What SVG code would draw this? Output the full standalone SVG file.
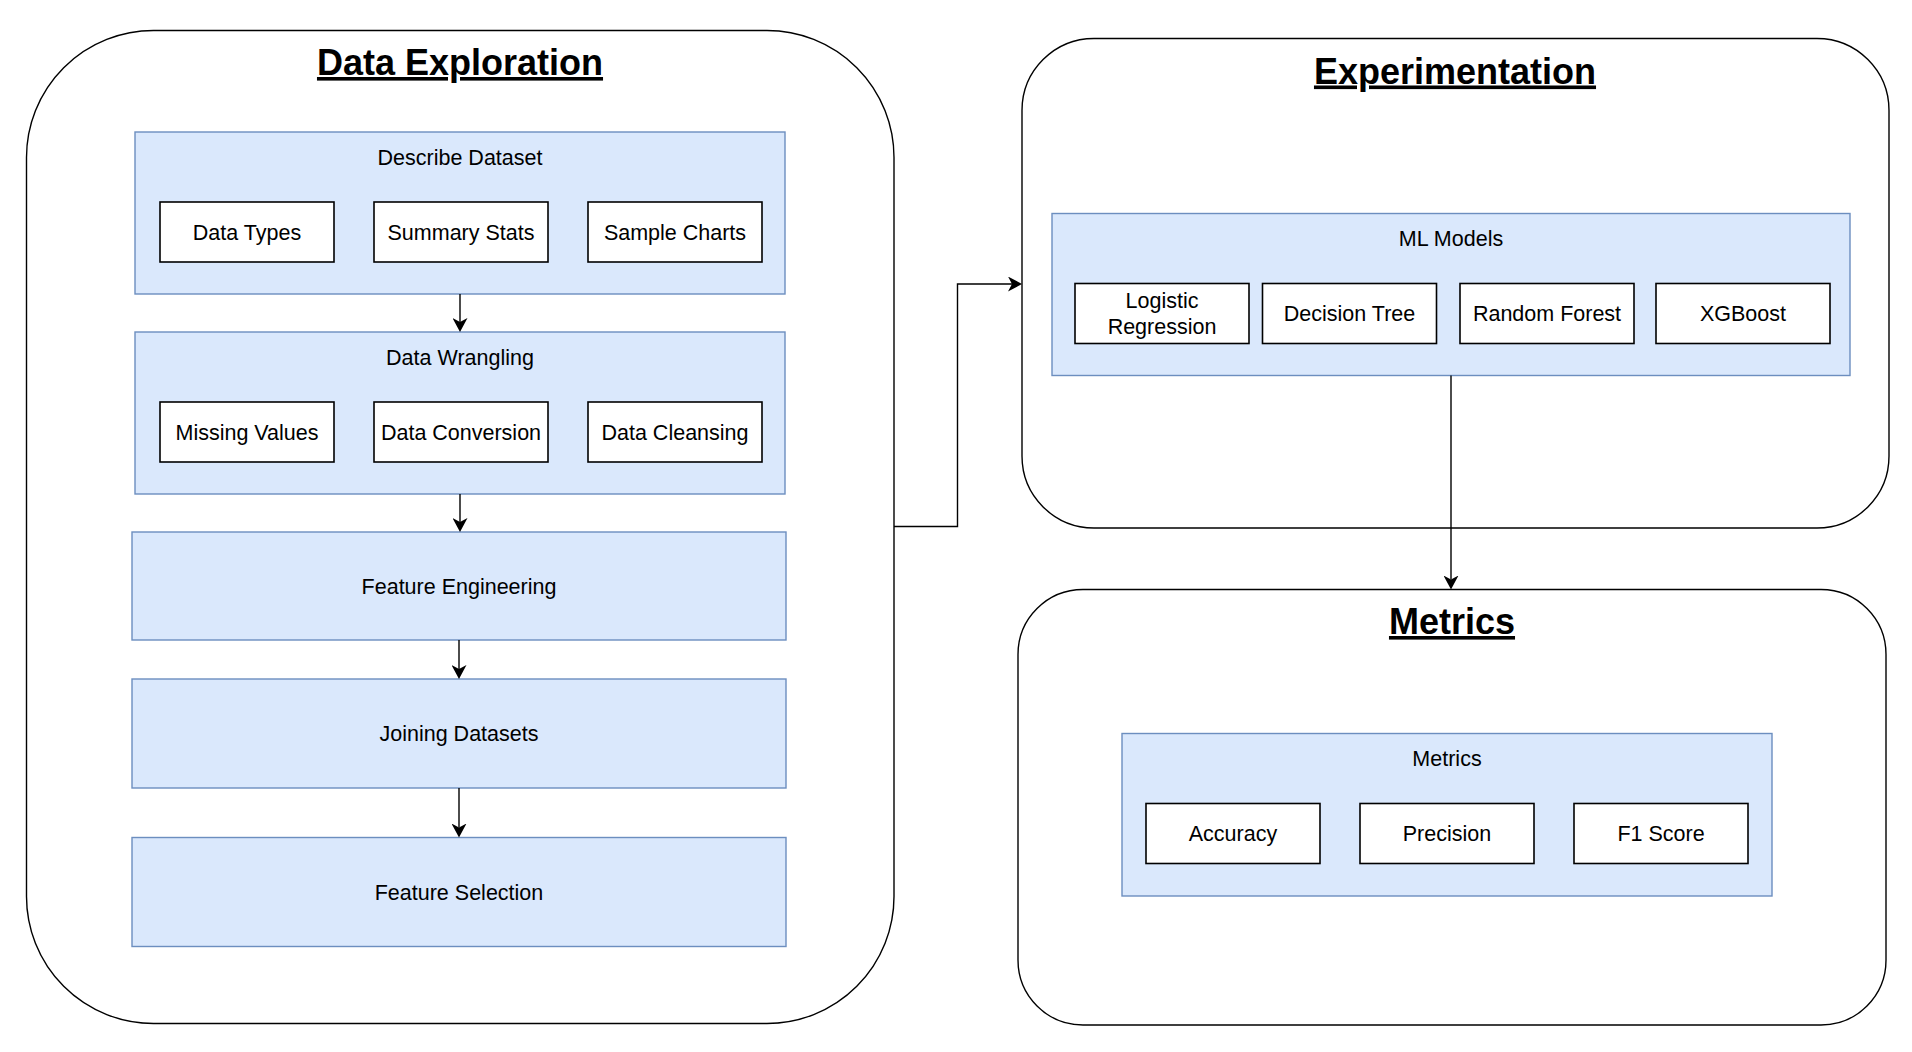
<svg xmlns="http://www.w3.org/2000/svg" width="1912" height="1052" viewBox="0 0 1912 1052">
<style>
  text { font-family: "Liberation Sans", Arial, Helvetica, sans-serif; fill: #000; text-anchor: middle; }
  .lbl { font-size: 21.5px; }
  .ttl { font-size: 36px; font-weight: bold; text-decoration: underline; }
  .container { fill: #ffffff; stroke: #000; stroke-width: 1.4; }
  .blue { fill: #dae8fc; stroke: #6c8ebf; stroke-width: 1.4; }
  .item { fill: #ffffff; stroke: #000; stroke-width: 1.6; }
  .edge { fill: none; stroke: #000; stroke-width: 1.4; }
</style>
<defs>
  <marker id="arrow" viewBox="0 0 14 15" refX="4" refY="7.5" markerWidth="14" markerHeight="15" markerUnits="userSpaceOnUse" orient="auto">
    <path d="M0,0 L14,7.5 L0,15 L4,7.5 Z" fill="#000"/>
  </marker>
</defs>
<rect width="1912" height="1052" fill="#ffffff"/>

<g id="data-exploration">
  <rect class="container" x="26.5" y="30.5" width="867.5" height="993" rx="127" ry="127"/>
  <text class="ttl" x="460" y="75">Data Exploration</text>
</g>
<g id="experimentation">
  <rect class="container" x="1022" y="38.5" width="867" height="489.5" rx="72" ry="72"/>
  <text class="ttl" x="1455" y="83.5">Experimentation</text>
</g>
<g id="metrics-container">
  <rect class="container" x="1018" y="589.5" width="868" height="435.5" rx="65" ry="65"/>
  <text class="ttl" x="1452" y="634">Metrics</text>
</g>

<g id="describe-dataset">
  <rect class="blue" x="135" y="132" width="650" height="162"/>
  <text class="lbl" x="460" y="164.5">Describe Dataset</text>
</g>
<g id="data-types">
  <rect class="item" x="160" y="202" width="174" height="60"/>
  <text class="lbl" x="247" y="239.7">Data Types</text>
</g>
<g id="summary-stats">
  <rect class="item" x="374" y="202" width="174" height="60"/>
  <text class="lbl" x="461" y="239.7">Summary Stats</text>
</g>
<g id="sample-charts">
  <rect class="item" x="588" y="202" width="174" height="60"/>
  <text class="lbl" x="675" y="239.7">Sample Charts</text>
</g>

<g id="data-wrangling">
  <rect class="blue" x="135" y="332" width="650" height="162"/>
  <text class="lbl" x="460" y="364.5">Data Wrangling</text>
</g>
<g id="missing-values">
  <rect class="item" x="160" y="402" width="174" height="60"/>
  <text class="lbl" x="247" y="439.7">Missing Values</text>
</g>
<g id="data-conversion">
  <rect class="item" x="374" y="402" width="174" height="60"/>
  <text class="lbl" x="461" y="439.7">Data Conversion</text>
</g>
<g id="data-cleansing">
  <rect class="item" x="588" y="402" width="174" height="60"/>
  <text class="lbl" x="675" y="439.7">Data Cleansing</text>
</g>

<g id="feature-engineering">
  <rect class="blue" x="132" y="532" width="654" height="108"/>
  <text class="lbl" x="459" y="593.7">Feature Engineering</text>
</g>
<g id="joining-datasets">
  <rect class="blue" x="132" y="679" width="654" height="109"/>
  <text class="lbl" x="459" y="741.2">Joining Datasets</text>
</g>
<g id="feature-selection">
  <rect class="blue" x="132" y="837.5" width="654" height="109"/>
  <text class="lbl" x="459" y="899.7">Feature Selection</text>
</g>

<g id="ml-models">
  <rect class="blue" x="1052" y="213.5" width="798" height="162"/>
  <text class="lbl" x="1451" y="245.5">ML Models</text>
</g>
<g id="logistic-regression">
  <rect class="item" x="1075" y="283.5" width="174" height="60"/>
  <text class="lbl" x="1162" y="308">Logistic</text>
  <text class="lbl" x="1162" y="333.5">Regression</text>
</g>
<g id="decision-tree">
  <rect class="item" x="1262.5" y="283.5" width="174" height="60"/>
  <text class="lbl" x="1349.5" y="321.2">Decision Tree</text>
</g>
<g id="random-forest">
  <rect class="item" x="1460" y="283.5" width="174" height="60"/>
  <text class="lbl" x="1547" y="321.2">Random Forest</text>
</g>
<g id="xgboost">
  <rect class="item" x="1656" y="283.5" width="174" height="60"/>
  <text class="lbl" x="1743" y="321.2">XGBoost</text>
</g>

<g id="metrics">
  <rect class="blue" x="1122" y="733.5" width="650" height="162.5"/>
  <text class="lbl" x="1447" y="765.7">Metrics</text>
</g>
<g id="accuracy">
  <rect class="item" x="1146" y="803.5" width="174" height="60"/>
  <text class="lbl" x="1233" y="841.2">Accuracy</text>
</g>
<g id="precision">
  <rect class="item" x="1360" y="803.5" width="174" height="60"/>
  <text class="lbl" x="1447" y="841.2">Precision</text>
</g>
<g id="f1-score">
  <rect class="item" x="1574" y="803.5" width="174" height="60"/>
  <text class="lbl" x="1661" y="841.2">F1 Score</text>
</g>

<g id="connectors">
  <path class="edge" d="M460,294 V322" marker-end="url(#arrow)"/>
  <path class="edge" d="M460,494 V522" marker-end="url(#arrow)"/>
  <path class="edge" d="M459,640 V669" marker-end="url(#arrow)"/>
  <path class="edge" d="M459,788 V827.5" marker-end="url(#arrow)"/>
  <path class="edge" d="M894,526.5 H957.5 V284 H1012" marker-end="url(#arrow)"/>
  <path class="edge" d="M1451,375.5 V579.5" marker-end="url(#arrow)"/>
</g>
</svg>
